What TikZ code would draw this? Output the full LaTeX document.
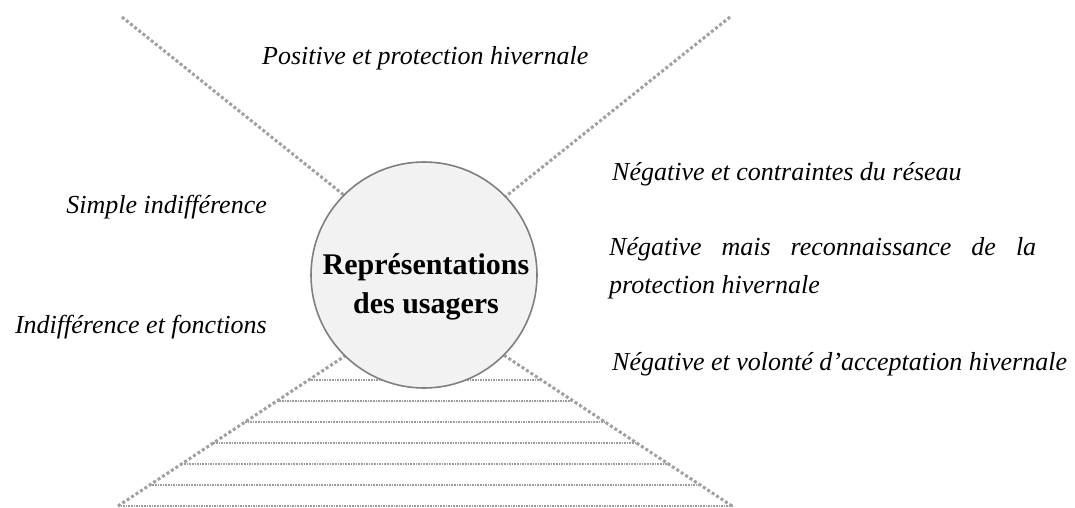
\documentclass[tikz,border=0pt]{standalone}
\usepackage{fontspec}
\setmainfont{Liberation Serif}
\definecolor{dotgray}{HTML}{A0A0A0}
\definecolor{rungray}{HTML}{9C9C9C}
\definecolor{hubfill}{HTML}{F2F2F2}
\definecolor{hubline}{HTML}{7F7F7F}
\begin{document}
\begin{tikzpicture}[x=1pt,y=-1pt,
  diag/.style={draw=dotgray, line width=3pt, dash pattern=on 3pt off 2.3pt},
  rung/.style={draw=rungray, line width=1.1pt, dash pattern=on 1.6pt off 1pt},
  hub/.style={circle, minimum size=226pt, inner sep=0pt, fill=hubfill, draw=hubline, line width=1.6pt},
  hubtext/.style={font=\fontsize{30}{39}\selectfont\bfseries, align=center, inner sep=0pt},
  label/.style={font=\fontsize{26}{38}\selectfont\itshape, inner sep=0pt},
]
\useasboundingbox (0,0) rectangle (1075,508);

% ends of the four diagonals (inner ends lie under the circle)
\coordinate (tl1) at (122,17);  \coordinate (tl2) at (360,208);
\coordinate (tr1) at (730,17);  \coordinate (tr2) at (490,209);
\coordinate (bl1) at (118,506); \coordinate (bl2) at (360,346);
\coordinate (br1) at (732,506); \coordinate (br2) at (490,346);

% rungs of the lower ladder, between the two lower diagonals
\foreach \k in {0,...,6}{
  \pgfmathsetmacro{\yy}{380+21*\k}
  \coordinate (hl\k) at (0,\yy);
  \coordinate (hr\k) at (1075,\yy);
  \draw[rung] (intersection of bl1--bl2 and hl\k--hr\k) -- (intersection of br1--br2 and hl\k--hr\k);
}

\draw[diag] (tl1) -- (tl2);
\draw[diag] (tr1) -- (tr2);
\draw[diag] (bl1) -- (bl2);
\draw[diag] (br1) -- (br2);

% central circle
\node[hub] (hub) at (424,275) {};
\node[hubtext, anchor=base] (hubtxt) at (426,313) {Représentations\\des usagers};

% surrounding labels
\node[label, anchor=base west] (pos) at (262,65) {Positive et protection hivernale};
\node[label, anchor=base east] (simple) at (267,213) {Simple indifférence};
\node[label, anchor=base east] (indiff) at (267,333) {Indifférence et fonctions};
\node[label, anchor=base west] (neg1) at (612,180) {Négative et contraintes du réseau};
\node[label, anchor=base west, align=left] (neg2) at (609,293)
  {\makebox[427pt][s]{Négative mais reconnaissance de la}\\protection hivernale};
\node[label, anchor=base west] (neg3) at (612,370) {Négative et volonté d’acceptation hivernale};
\end{tikzpicture}
\end{document}
